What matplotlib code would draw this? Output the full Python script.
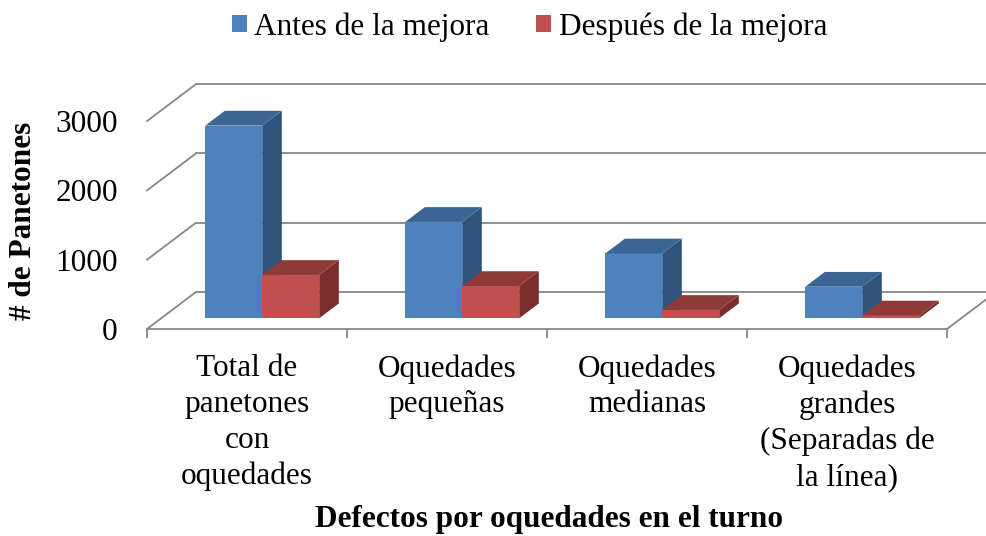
import matplotlib.pyplot as plt
from matplotlib.patches import Polygon, Patch

plt.rcParams['font.family'] = ['Liberation Serif', 'DejaVu Serif']

# data
categorias = ['Total de\npanetones\ncon\noquedades',
              'Oquedades\npequeñas',
              'Oquedades\nmedianas',
              'Oquedades\ngrandes\n(Separadas de\nla línea)']
antes = [2780, 1390, 935, 455]
despues = [625, 465, 120, 40]
series = ['Antes de la mejora', 'Después de la mejora']
yticks = [0, 1000, 2000, 3000]

# colours (front, top, side)
azul = ('#4F81BD', '#3B6592', '#31547C')
rojo = ('#C0504D', '#8E3A38', '#7A2E2C')
gris = '#878787'

W, H = 987, 536
fig = plt.figure(figsize=(W / 100, H / 100), dpi=100)

# axes placed so that the front plane of the floor matches the reference
ax = fig.add_axes([147 / W, (H - 329) / H, 800 / W, 207.9 / H])
ax.set_xlim(0, 4)
ax.set_ylim(0, 3000)
for s in ax.spines.values():
    s.set_visible(False)

# oblique depth offset of the whole plot box (category units, value units)
DX, DY = 0.245, 534
n = len(categorias)

# walls / gridlines
for v in yticks:
    ax.plot([0, DX], [v, v + DY], color=gris, lw=1.3, clip_on=False)
    ax.plot([DX, n + DX], [v + DY, v + DY], color=gris, lw=1.3, clip_on=False)
ax.plot([0, n], [0, 0], color=gris, lw=1.3, clip_on=False)
ax.plot([n, n + DX], [0, DY], color=gris, lw=1.3, clip_on=False)

# 3d looking bars
f0, fd = 0.29, 0.40          # front position and depth of bars (fraction of box depth)
ox, oy = f0 * DX, f0 * DY
bdx, bdy = fd * DX, fd * DY
bw = 0.285
left = 0.22


def bar3d(x0, h, cols):
    x = x0 + ox
    front = [(x, oy), (x + bw, oy), (x + bw, oy + h), (x, oy + h)]
    top = [(x, oy + h), (x + bw, oy + h), (x + bw + bdx, oy + h + bdy), (x + bdx, oy + h + bdy)]
    side = [(x + bw, oy), (x + bw + bdx, oy + bdy), (x + bw + bdx, oy + h + bdy), (x + bw, oy + h)]
    for pts, c in zip([front, top, side], cols):
        ax.add_patch(Polygon(pts, closed=True, facecolor=c, edgecolor='none', clip_on=False, zorder=3))


for i in range(n):
    bar3d(i + left, antes[i], azul)
    bar3d(i + left + bw, despues[i], rojo)

# ticks
ax.set_yticks(yticks)
ax.set_yticklabels([str(v) for v in yticks])
ax.tick_params(axis='y', length=0, pad=21, labelsize=22.5)
ax.set_xticks([i + 0.5 for i in range(n)])
ax.set_xticklabels(categorias)
ax.tick_params(axis='x', which='major', length=0, pad=18, labelsize=22.5)
ax.set_xticks(range(n + 1), minor=True)
ax.tick_params(axis='x', which='minor', length=6.5, width=1.3, color=gris, direction='out')
for t in ax.get_xticklabels():
    t.set_linespacing(1.31)

# titles
fig.text(24 / W, 1 - 221 / H, '# de Panetones', rotation=90, ha='center', va='center',
         fontsize=22.5, fontweight='bold')
fig.text(549 / W, 1 - 519 / H, 'Defectos por oquedades en el turno', ha='center', va='center',
         fontsize=22.5, fontweight='bold')

# legend
handles = [Patch(facecolor=azul[0]), Patch(facecolor=rojo[0])]
fig.legend(handles, series, loc='center', bbox_to_anchor=(529.5 / W, 1 - 27 / H), ncol=2,
           frameon=False, fontsize=22.5, handlelength=0.47, handleheight=0.47,
           handletextpad=0.25, columnspacing=1.48)

fig.savefig('out.png', dpi=100)
